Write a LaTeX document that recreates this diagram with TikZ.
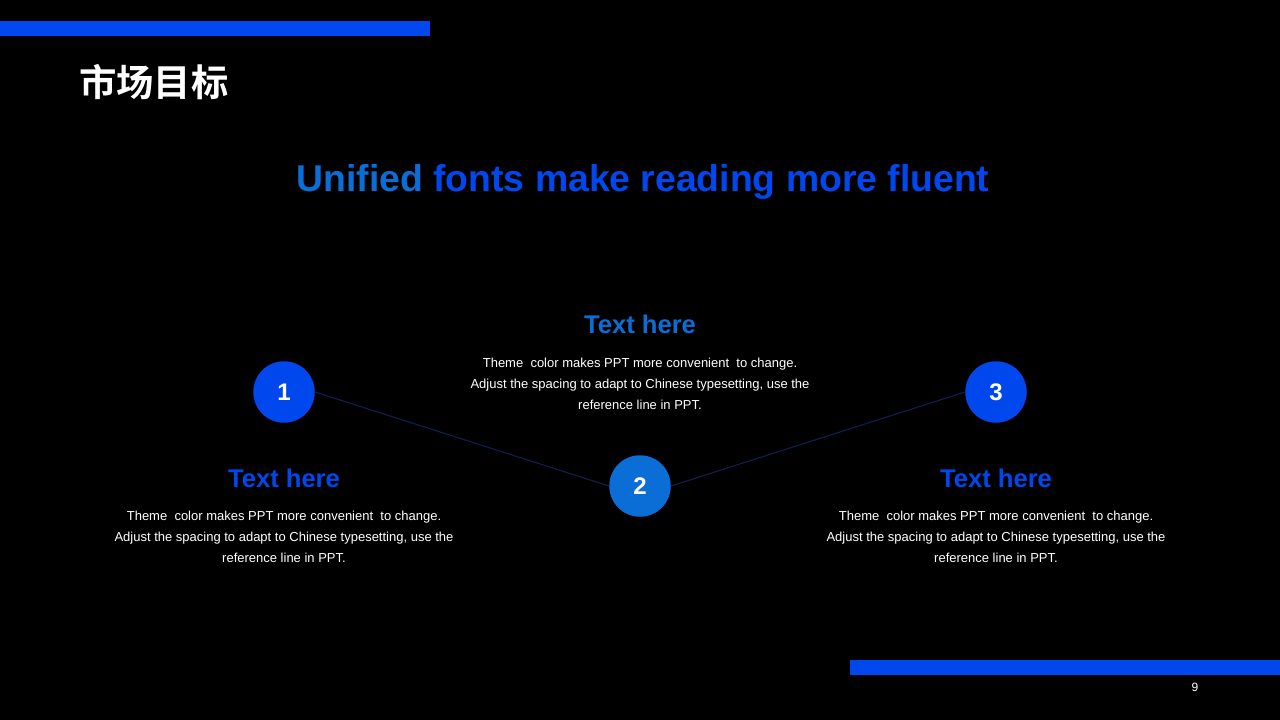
\documentclass[tikz,border=0pt]{standalone}
\usepackage{fontspec}
\setmainfont{Liberation Sans}
\newfontfamily\cjk{Noto Sans CJK SC}[BoldFont={* Bold}]
\definecolor{mainblue}{RGB}{0,72,238}
\definecolor{lightblue}{RGB}{10,110,214}
\definecolor{linenavy}{RGB}{14,32,86}
\begin{document}
\begin{tikzpicture}[x=0.75pt,y=-0.75pt,
  bar/.style={fill=mainblue,draw=none},
  numcirc/.style={circle,minimum size=61.5*0.75pt,inner sep=0pt,text=white,font=\bfseries\fontsize{18}{20}\selectfont},
  head/.style={font=\bfseries\fontsize{19.2}{22}\selectfont,inner sep=0pt},
  body/.style={font=\fontsize{9.75}{15.75}\selectfont,text=white,align=center,inner sep=0pt},
  link/.style={draw=linenavy,line width=0.8pt}]
\useasboundingbox (0,0) rectangle (1280,720);
\fill[black] (0,0) rectangle (1280,720);
% bars
\fill[bar] (0,21) rectangle (430,36);
\fill[bar] (850,660) rectangle (1280,675);
% title
\node[anchor=west,inner sep=0pt,text=white,font=\cjk\bfseries\fontsize{28}{30}\selectfont] (title) at (79,82) {市场目标};
% subtitle
\node[inner sep=0pt,font=\bfseries\fontsize{28}{32}\selectfont] (sub) at (643,182) {\textcolor{lightblue}{Unified} \textcolor{mainblue}{fonts make reading more fluent}};
% circles
\node[numcirc,fill=mainblue] (c1) at (284,392) {1};
\node[numcirc,fill=lightblue] (c2) at (640,486) {2};
\node[numcirc,fill=mainblue] (c3) at (996,392) {3};
\draw[link] (c1.east) -- (c2.west);
\draw[link] (c2.east) -- (c3.west);
% headings
\node[head,text=lightblue] (h2) at (640,324) {Text here};
\node[head,text=mainblue] (h1) at (284,478) {Text here};
\node[head,text=mainblue] (h3) at (996,478) {Text here};
% body texts
\node[body] (b2) at (640,384) {Theme\ \ color makes PPT more convenient\ \ to change.\\Adjust the spacing to adapt to Chinese typesetting, use the\\reference line in PPT.};
\node[body] (b1) at (284,537) {Theme\ \ color makes PPT more convenient\ \ to change.\\Adjust the spacing to adapt to Chinese typesetting, use the\\reference line in PPT.};
\node[body] (b3) at (996,537) {Theme\ \ color makes PPT more convenient\ \ to change.\\Adjust the spacing to adapt to Chinese typesetting, use the\\reference line in PPT.};
% page number
\node[text=white,font=\fontsize{9}{10}\selectfont,inner sep=0pt] (pg) at (1195,687) {9};
\end{tikzpicture}
\end{document}
